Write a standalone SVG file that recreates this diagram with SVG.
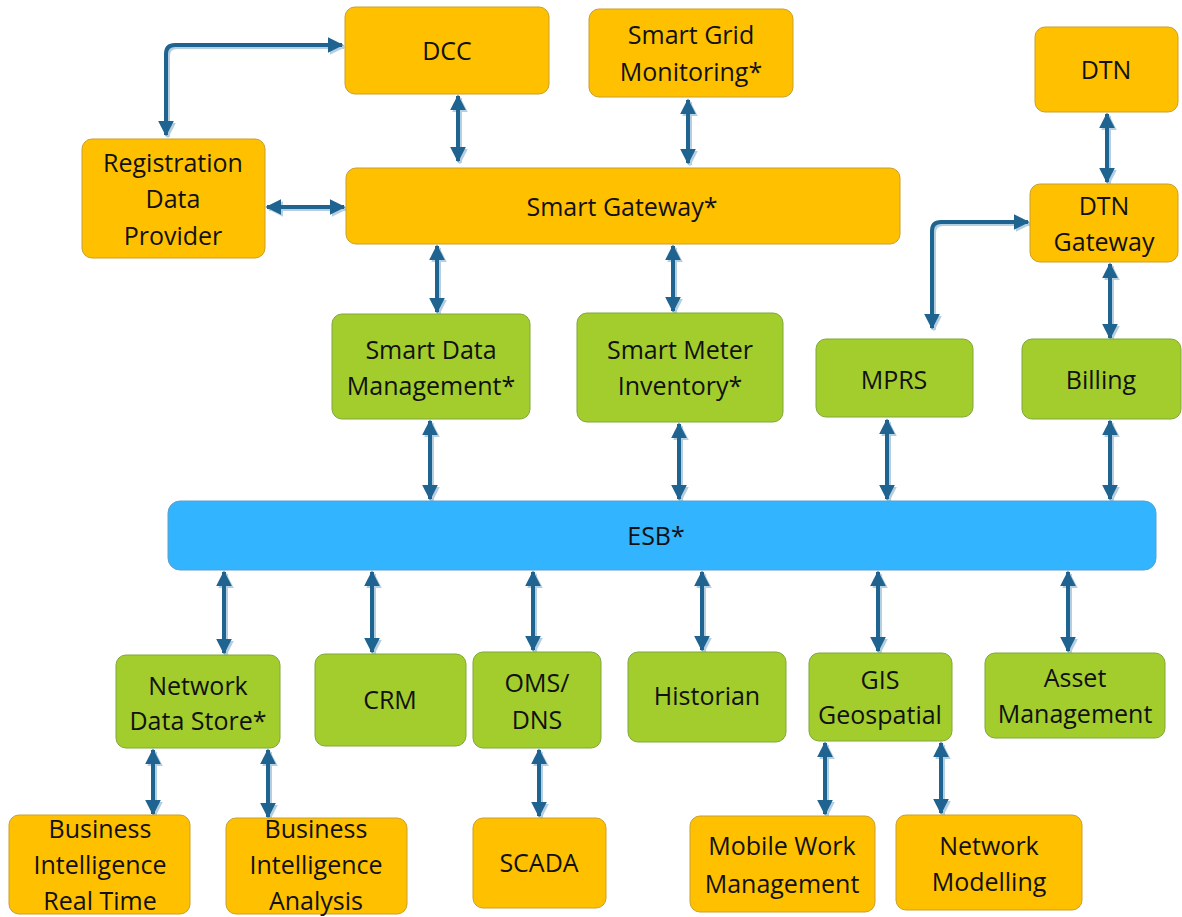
<svg xmlns="http://www.w3.org/2000/svg" width="1182" height="917" viewBox="0 0 1182 917">
<style>
.o{fill:#FFC000;stroke:#C8A02A;stroke-width:1}
.g{fill:#A2CD2C;stroke:#7FA83A;stroke-width:1}
.b{fill:#33B4FF;stroke:#5AA0D0;stroke-width:1}
text{font-family:"Open Sans","Liberation Sans",sans-serif;font-size:25px;fill:#111;text-anchor:middle}
.c{fill:none;stroke:#1F6391;stroke-width:4;marker-start:url(#a);marker-end:url(#a)}
.s{fill:none;stroke:#B6CFE0;stroke-width:4;marker-start:url(#as);marker-end:url(#as)}
</style>
<defs>
<marker id="a" viewBox="0 0 10 10" refX="9" refY="5" markerWidth="4" markerHeight="4" orient="auto-start-reverse" markerUnits="strokeWidth"><path d="M0,0L10,5L0,10z" fill="#1F6391"/></marker>
<marker id="as" viewBox="0 0 10 10" refX="9" refY="5" markerWidth="4" markerHeight="4" orient="auto-start-reverse" markerUnits="strokeWidth"><path d="M0,0L10,5L0,10z" fill="#B6CFE0"/></marker>
</defs>
<rect width="1182" height="917" fill="#fff"/>
<g id="connectors">
<g transform="translate(2,2)">
<path class="s" d="M342,45H175Q166,45 166,54V135"/>
<path class="s" d="M458,96V161"/>
<path class="s" d="M688,100V163"/>
<path class="s" d="M267,207H344"/>
<path class="s" d="M1107,114V182"/>
<path class="s" d="M1028,222H941Q932,222 932,231V328"/>
<path class="s" d="M1110,264V338"/>
<path class="s" d="M437,246V312"/>
<path class="s" d="M673,246V311"/>
<path class="s" d="M430,421V499"/>
<path class="s" d="M679,424V499"/>
<path class="s" d="M887,420V499"/>
<path class="s" d="M1110,421V499"/>
<path class="s" d="M224,572V653"/>
<path class="s" d="M372,572V652"/>
<path class="s" d="M533,572V650"/>
<path class="s" d="M702,572V650"/>
<path class="s" d="M878,572V651"/>
<path class="s" d="M1068,572V651"/>
<path class="s" d="M153,750V814"/>
<path class="s" d="M268,750V817"/>
<path class="s" d="M539,750V816"/>
<path class="s" d="M825,743V814"/>
<path class="s" d="M941,743V813"/>
</g>
<path class="c" d="M342,45H175Q166,45 166,54V135"/>
<path class="c" d="M458,96V161"/>
<path class="c" d="M688,100V163"/>
<path class="c" d="M267,207H344"/>
<path class="c" d="M1107,114V182"/>
<path class="c" d="M1028,222H941Q932,222 932,231V328"/>
<path class="c" d="M1110,264V338"/>
<path class="c" d="M437,246V312"/>
<path class="c" d="M673,246V311"/>
<path class="c" d="M430,421V499"/>
<path class="c" d="M679,424V499"/>
<path class="c" d="M887,420V499"/>
<path class="c" d="M1110,421V499"/>
<path class="c" d="M224,572V653"/>
<path class="c" d="M372,572V652"/>
<path class="c" d="M533,572V650"/>
<path class="c" d="M702,572V650"/>
<path class="c" d="M878,572V651"/>
<path class="c" d="M1068,572V651"/>
<path class="c" d="M153,750V814"/>
<path class="c" d="M268,750V817"/>
<path class="c" d="M539,750V816"/>
<path class="c" d="M825,743V814"/>
<path class="c" d="M941,743V813"/>
</g>
<g id="dcc"><rect class="o" x="345" y="7" width="204" height="87" rx="10"/><text x="447" y="60">DCC</text></g>
<g id="sgm"><rect class="o" x="589" y="9" width="204" height="88" rx="10"/><text x="691" y="44">Smart Grid</text><text x="691" y="81">Monitoring*</text></g>
<g id="dtn"><rect class="o" x="1035" y="27" width="143" height="85" rx="10"/><text x="1106" y="79">DTN</text></g>
<g id="rdp"><rect class="o" x="82" y="139" width="183" height="119" rx="10"/><text x="173" y="172">Registration</text><text x="173" y="208">Data</text><text x="173" y="245">Provider</text></g>
<g id="sgw"><rect class="o" x="346" y="168" width="554" height="76" rx="10"/><text x="622" y="216">Smart Gateway*</text></g>
<g id="dtngw"><rect class="o" x="1030" y="184" width="148" height="78" rx="10"/><text x="1104" y="215">DTN</text><text x="1104" y="251">Gateway</text></g>
<g id="sdm"><rect class="g" x="332" y="314" width="198" height="105" rx="10"/><text x="431" y="359">Smart Data</text><text x="431" y="395">Management*</text></g>
<g id="smi"><rect class="g" x="577" y="313" width="206" height="109" rx="10"/><text x="680" y="359">Smart Meter</text><text x="680" y="395">Inventory*</text></g>
<g id="mprs"><rect class="g" x="816" y="339" width="157" height="78" rx="10"/><text x="894" y="389">MPRS</text></g>
<g id="billing"><rect class="g" x="1022" y="339" width="159" height="80" rx="10"/><text x="1101" y="389">Billing</text></g>
<g id="esb"><rect class="b" x="168" y="501" width="988" height="69" rx="12"/><text x="656" y="545">ESB*</text></g>
<g id="nds"><rect class="g" x="116" y="655" width="164" height="93" rx="10"/><text x="198" y="695">Network</text><text x="198" y="730">Data Store*</text></g>
<g id="crm"><rect class="g" x="315" y="654" width="151" height="92" rx="10"/><text x="390" y="709">CRM</text></g>
<g id="oms"><rect class="g" x="473" y="652" width="128" height="96" rx="10"/><text x="537" y="692">OMS/</text><text x="537" y="729">DNS</text></g>
<g id="historian"><rect class="g" x="628" y="652" width="158" height="90" rx="10"/><text x="707" y="705">Historian</text></g>
<g id="gis"><rect class="g" x="809" y="653" width="143" height="88" rx="10"/><text x="880" y="689">GIS</text><text x="880" y="724">Geospatial</text></g>
<g id="asset"><rect class="g" x="985" y="653" width="180" height="85" rx="10"/><text x="1075" y="687">Asset</text><text x="1075" y="723">Management</text></g>
<g id="birt"><rect class="o" x="9" y="815" width="181" height="99" rx="10"/><text x="100" y="838">Business</text><text x="100" y="874">Intelligence</text><text x="100" y="910">Real Time</text></g>
<g id="bia"><rect class="o" x="226" y="818" width="181" height="96" rx="10"/><text x="316" y="838">Business</text><text x="316" y="874">Intelligence</text><text x="316" y="910">Analysis</text></g>
<g id="scada"><rect class="o" x="473" y="818" width="133" height="90" rx="10"/><text x="539" y="872">SCADA</text></g>
<g id="mwm"><rect class="o" x="690" y="816" width="185" height="96" rx="10"/><text x="782" y="855">Mobile Work</text><text x="782" y="893">Management</text></g>
<g id="nm"><rect class="o" x="896" y="815" width="186" height="95" rx="10"/><text x="989" y="855">Network</text><text x="989" y="891">Modelling</text></g>
</svg>
